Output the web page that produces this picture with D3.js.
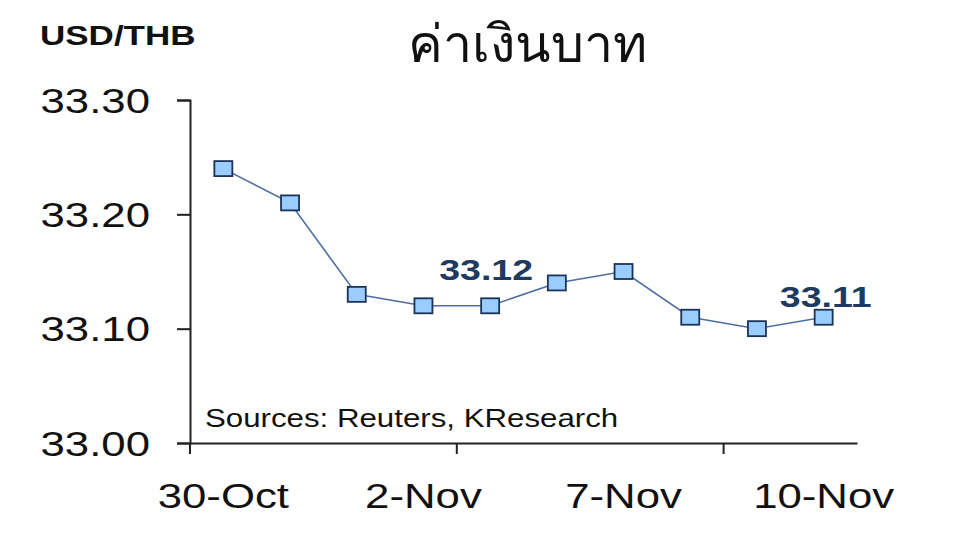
<!DOCTYPE html>
<html>
<head>
<meta charset="utf-8">
<script src="https://cdn.jsdelivr.net/npm/d3@7"></script>
<style>
  body { margin: 0; background: #fff; }
  text { font-family: "Liberation Sans", Arial, sans-serif; }
</style>
</head>
<body>
<div id="chart"></div>
<script>
// data
const dates = ['30-Oct', '31-Oct', '1-Nov', '2-Nov', '3-Nov', '6-Nov', '7-Nov', '8-Nov', '9-Nov', '10-Nov']
const rates = [33.24, 33.21, 33.13, 33.12, 33.12, 33.14, 33.15, 33.11, 33.10, 33.11]
const shownDates = ['30-Oct', '2-Nov', '7-Nov', '10-Nov']
const yTicks = [33.0, 33.1, 33.2, 33.3]
const labelled = ['3-Nov', '10-Nov']

const W = 960
const H = 540
const stretch = 1.25 // the picture is squeezed wide

const svg = d3.select('#chart')
  .append('svg')
  .attr('width', W)
  .attr('height', H)

const x = d3.scaleBand().domain(dates).range([190, 857]).padding(0)
const y = d3.scaleLinear().domain([33.0, 33.3]).range([443, 100])

const axisColor = '#222'

// y axis
const yAxis = d3.axisLeft(y)
  .tickValues(yTicks)
  .tickSize(13)
  .tickFormat(d3.format('.2f'))

const gy = svg.append('g')
  .attr('transform', 'translate(190,0)')
  .call(yAxis)
gy.select('.domain').attr('stroke', axisColor).attr('stroke-width', 2)
gy.selectAll('.tick line').attr('stroke', axisColor).attr('stroke-width', 2)
gy.selectAll('.tick text')
  .attr('x', null)
  .attr('dy', null)
  .attr('transform', 'translate(-40,12) scale(' + stretch + ',1)')
  .attr('font-size', 35)
  .attr('fill', '#111')
  .attr('font-family', '"Liberation Sans", Arial, sans-serif')

// x axis: labels at some category centres, ticks every four categories
const xAxis = d3.axisBottom(x)
  .tickValues(shownDates)
  .tickSize(0)
  .tickSizeOuter(0)

const gx = svg.append('g')
  .attr('transform', 'translate(0,443)')
  .call(xAxis)
gx.select('.domain').attr('stroke', axisColor).attr('stroke-width', 2)
gx.selectAll('.tick text')
  .attr('y', null)
  .attr('dy', null)
  .attr('transform', 'translate(0,65) scale(' + stretch + ',1)')
  .attr('font-size', 35)
  .attr('fill', '#111')
  .attr('font-family', '"Liberation Sans", Arial, sans-serif')

gx.selectAll('.band-tick')
  .data(dates.filter((d, i) => i % 4 === 0))
  .enter()
  .append('line')
  .attr('class', 'band-tick')
  .attr('x1', d => x(d))
  .attr('x2', d => x(d))
  .attr('y1', 0)
  .attr('y2', 11)
  .attr('stroke', axisColor)
  .attr('stroke-width', 2)

const cx = d => x(d) + x.bandwidth() / 2
const points = dates.map((d, i) => ({ date: d, value: rates[i] }))

// line
const line = d3.line()
  .x(d => cx(d.date))
  .y(d => y(d.value))

svg.append('path')
  .datum(points)
  .attr('d', line)
  .attr('fill', 'none')
  .attr('stroke', '#4d6ca3')
  .attr('stroke-width', 1.6)

// square markers
svg.selectAll('.marker')
  .data(points)
  .enter()
  .append('rect')
  .attr('class', 'marker')
  .attr('x', d => cx(d.date) - 9)
  .attr('y', d => y(d.value) - 7.5)
  .attr('width', 18)
  .attr('height', 15)
  .attr('fill', '#99ccff')
  .attr('stroke', '#1c3358')
  .attr('stroke-width', 1.8)

// value labels
const labelOffset = { '3-Nov': [-4, -26], '10-Nov': [2, -10] }
svg.selectAll('.vlabel')
  .data(points.filter(d => labelled.includes(d.date)))
  .enter()
  .append('text')
  .attr('class', 'vlabel')
  .attr('text-anchor', 'middle')
  .attr('transform', d => 'translate(' + (cx(d.date) + labelOffset[d.date][0]) + ',' +
    (y(d.value) + labelOffset[d.date][1]) + ') scale(' + stretch + ',1)')
  .attr('font-size', 30)
  .attr('font-weight', 'bold')
  .attr('fill', '#1f3a60')
  .text(d => d3.format('.2f')(d.value))

// unit label
svg.append('text')
  .attr('transform', 'translate(40,45) scale(' + stretch + ',1)')
  .attr('font-size', 28)
  .attr('font-weight', 'bold')
  .attr('fill', '#111')
  .text('USD/THB')

// title
svg.append('text')
  .attr('text-anchor', 'middle')
  .attr('transform', 'translate(527,62)')
  .attr('font-size', 52)
  .attr('fill', '#111')
  .text('ค่าเงินบาท')

// source note
svg.append('text')
  .attr('transform', 'translate(205,427) scale(' + stretch + ',1)')
  .attr('font-size', 25)
  .attr('fill', '#111')
  .text('Sources: Reuters, KResearch')
</script>
</body>
</html>
